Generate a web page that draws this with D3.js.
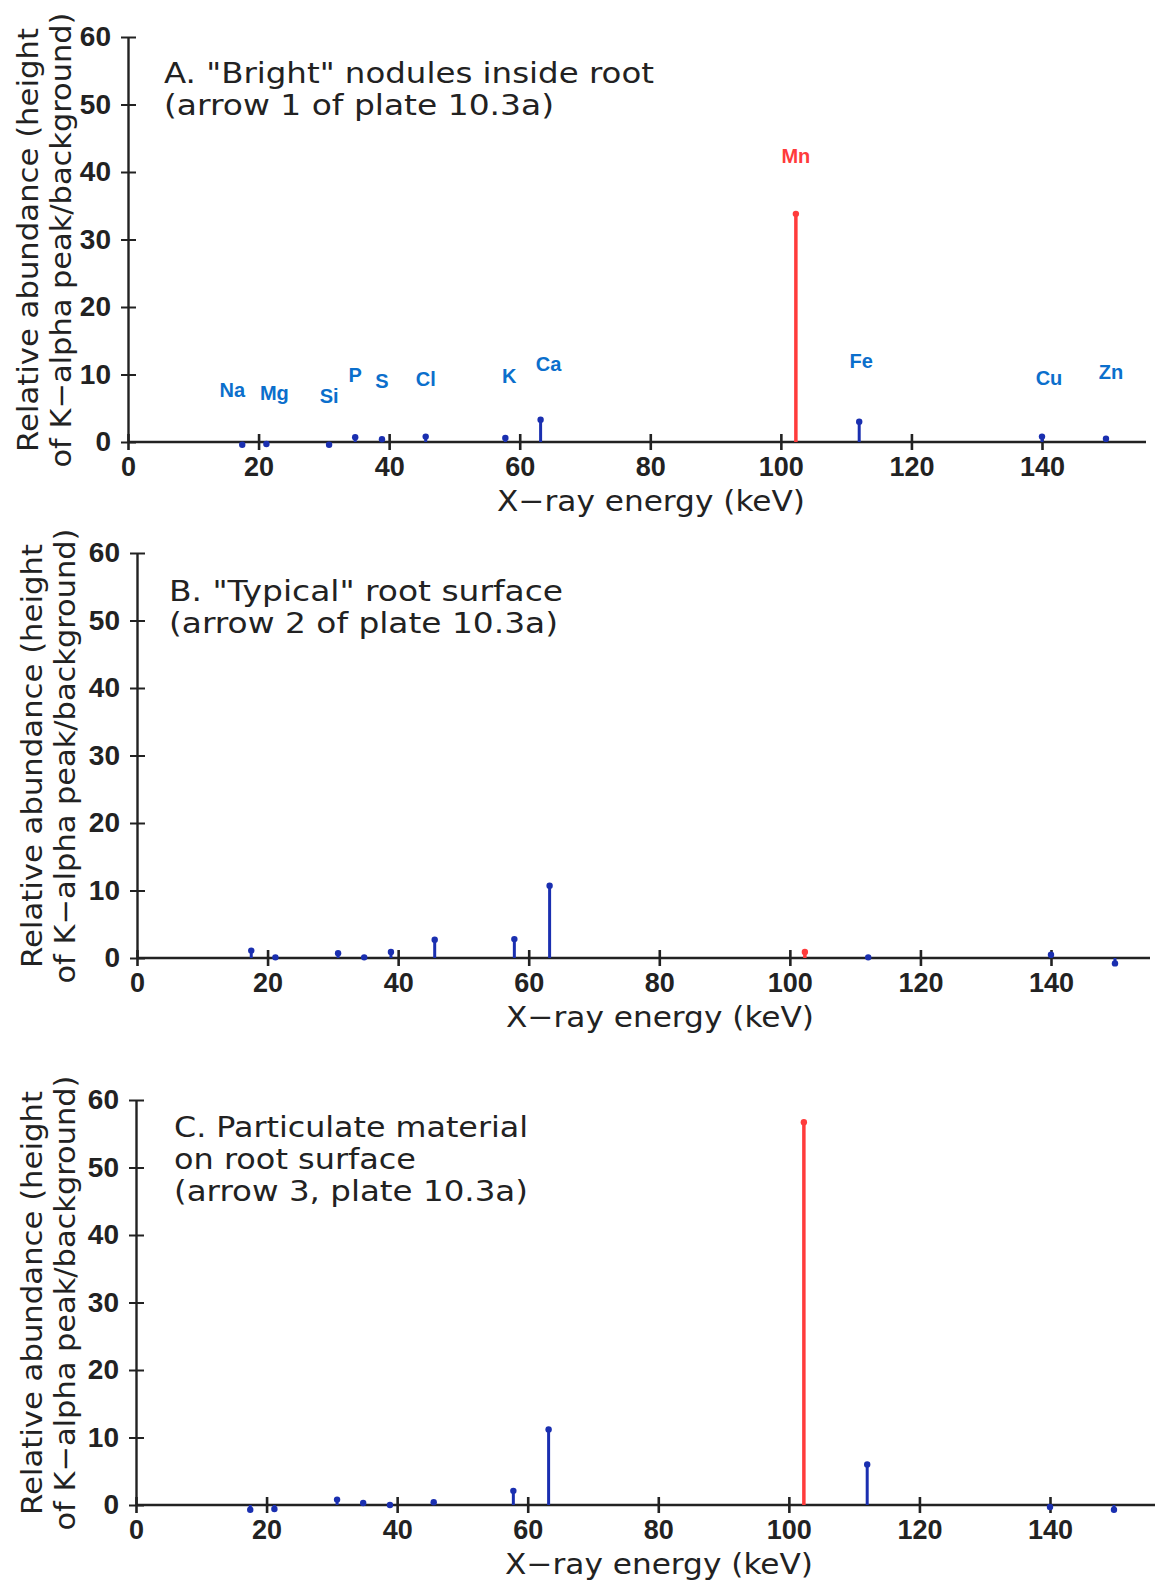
<!DOCTYPE html>
<html>
<head>
<meta charset="utf-8">
<script src="https://cdn.jsdelivr.net/npm/d3@7"></script>
<style>
  html, body { margin: 0; padding: 0; background: #fff; }
  svg { display: block; }
</style>
</head>
<body>
<div id="chart"></div>
<script>
// element peaks (same order in every panel)
const elements = ['Na', 'Mg', 'Si', 'P', 'S', 'Cl', 'K', 'Ca', 'Mn', 'Fe', 'Cu', 'Zn'];
const energies = [17.5, 21.2, 30.8, 34.8, 38.9, 45.6, 57.8, 63.2, 102.3, 112.0, 140.0, 149.8];

// relative abundance
const nodulesA = [-0.4, -0.3, -0.4, 0.7, 0.4, 0.8, 0.6, 3.3, 33.8, 3.0, 0.8, 0.5];
const typicalB = [1.1, 0.1, 0.7, 0.1, 0.9, 2.7, 2.8, 10.7, 0.9, 0.1, 0.5, -0.8];
const particulateC = [-0.7, -0.6, 0.8, 0.3, 0.0, 0.4, 2.1, 11.2, 56.7, 6.0, -0.3, -0.7];

const xTicks = [0, 20, 40, 60, 80, 100, 120, 140];
const yTicks = [0, 10, 20, 30, 40, 50, 60];

const titleA = ['A. "Bright" nodules inside root', '(arrow 1 of plate 10.3a)'];
const titleB = ['B. "Typical" root surface', '(arrow 2 of plate 10.3a)'];
const titleC = ['C. Particulate material', 'on root surface', '(arrow 3, plate 10.3a)'];

const yLabel = ['Relative abundance (height', 'of K\u2212alpha peak/background)'];
const xLabel = 'X\u2212ray energy (keV)';

const W = 1160, H = 1583;
const axisCol = '#222';
const stemCol = '#1a2fb0';
const labelCol = '#0b6fcc';
const mnCol = '#ff3b3b';

const panels = [
  { values: nodulesA, title: titleA, x0: 128, y0: 442, top: 37, xEnd: 1146, tx: 164, ty: 83, labels: true,
    titleLen: [490, 390], ylx: 38 },
  { values: typicalB, title: titleB, x0: 137, y0: 958, top: 553, xEnd: 1150, tx: 169, ty: 601, labels: false,
    titleLen: [394, 389], ylx: 42 },
  { values: particulateC, title: titleC, x0: 136, y0: 1505, top: 1100, xEnd: 1155, tx: 174, ty: 1137, labels: false,
    titleLen: [354, 242, 354], ylx: 42 }
];

// small hand nudges for the element tags in panel A
const tagNudge = { Na: [-10, 6], Mg: [8, 9], Si: [0, 12], P: [0, -4], K: [4, -4], Ca: [8, 2],
  Fe: [2, -3], Cu: [7, -1], Zn: [5, -9] };
const nudge = el => tagNudge[el] || [0, 0];

const svg = d3.select('#chart')
  .append('svg')
  .attr('width', W)
  .attr('height', H);

panels.forEach(p => {
  const x = d3.scaleLinear().domain([0, 140]).range([p.x0, p.x0 + 914]);
  const y = d3.scaleLinear().domain([0, 60]).range([p.y0, p.top]);
  const g = svg.append('g');

  // y axis
  const yAxis = g.append('g')
    .attr('transform', `translate(${p.x0},0)`)
    .call(d3.axisLeft(y).tickValues(yTicks).tickSizeOuter(0).tickPadding(11));
  yAxis.select('.domain').attr('stroke', axisCol).attr('stroke-width', 2.4);
  yAxis.selectAll('.tick line')
    .attr('x1', 8).attr('x2', -7)
    .attr('stroke', axisCol).attr('stroke-width', 2);
  yAxis.selectAll('.tick text')
    .style('font-family', '"Liberation Sans", Arial, sans-serif')
    .style('font-weight', 'bold')
    .style('font-size', '28px')
    .attr('fill', axisCol);

  // x axis, the line runs on past the last tick
  g.append('line')
    .attr('x1', p.x0).attr('x2', p.xEnd)
    .attr('y1', p.y0).attr('y2', p.y0)
    .attr('stroke', axisCol).attr('stroke-width', 2.4);
  const xAxis = g.append('g')
    .attr('transform', `translate(0,${p.y0})`)
    .call(d3.axisBottom(x).tickValues(xTicks).tickSizeOuter(0).tickSize(0));
  xAxis.select('.domain').remove();
  xAxis.selectAll('.tick line')
    .attr('y1', -8).attr('y2', 8)
    .attr('stroke', axisCol).attr('stroke-width', 2.6);
  xAxis.selectAll('.tick text')
    .attr('y', 34).attr('dy', 0)
    .style('font-family', '"Liberation Sans", Arial, sans-serif')
    .style('font-weight', 'bold')
    .style('font-size', '27px')
    .attr('fill', axisCol);

  // axis titles
  g.append('text')
    .attr('x', p.x0 + 523)
    .attr('y', p.y0 + 69)
    .attr('text-anchor', 'middle')
    .attr('textLength', 308)
    .attr('lengthAdjust', 'spacingAndGlyphs')
    .style('font-family', '"DejaVu Sans", sans-serif')
    .style('font-size', '29px')
    .attr('fill', axisCol)
    .text(xLabel);

  yLabel.forEach((line, i) => {
    const cx = p.ylx + i * 33;
    const cy = p.y0 - 202;
    g.append('text')
      .attr('transform', `translate(${cx},${cy}) rotate(-90)`)
      .attr('text-anchor', 'middle')
      .attr('textLength', i === 0 ? 424 : 455)
      .attr('lengthAdjust', 'spacingAndGlyphs')
      .style('font-family', '"DejaVu Sans", sans-serif')
      .style('font-size', '29px')
      .attr('fill', axisCol)
      .text(line);
  });

  // panel title
  p.title.forEach((line, i) => {
    g.append('text')
      .attr('x', p.tx)
      .attr('y', p.ty + i * 32)
      .attr('textLength', p.titleLen[i])
      .attr('lengthAdjust', 'spacingAndGlyphs')
      .style('font-family', '"DejaVu Sans", sans-serif')
      .style('font-size', '28px')
      .attr('fill', axisCol)
      .text(line);
  });

  // peaks
  const peaks = elements.map((el, i) => ({ el, e: energies[i], v: p.values[i] }));
  const stems = g.selectAll('g.peak')
    .data(peaks)
    .join('g')
    .attr('class', 'peak');

  stems.append('line')
    .attr('x1', d => x(d.e)).attr('x2', d => x(d.e))
    .attr('y1', y(0))
    .attr('y2', d => y(d.v))
    .attr('stroke', d => d.el === 'Mn' ? mnCol : stemCol)
    .attr('stroke-width', d => d.el === 'Mn' ? 3.5 : 3);

  stems.append('circle')
    .attr('cx', d => x(d.e))
    .attr('cy', d => y(d.v))
    .attr('r', 3.2)
    .attr('fill', d => d.el === 'Mn' ? mnCol : stemCol);

  if (p.labels) {
    stems.append('text')
      .attr('x', d => x(d.e) + nudge(d.el)[0])
      .attr('y', d => y(Math.max(d.v, 0)) - 51 + nudge(d.el)[1])
      .attr('text-anchor', 'middle')
      .style('font-family', '"Liberation Sans", Arial, sans-serif')
      .style('font-weight', 'bold')
      .style('font-size', '20px')
      .attr('fill', d => d.el === 'Mn' ? mnCol : labelCol)
      .text(d => d.el);
  }
});
</script>
</body>
</html>
